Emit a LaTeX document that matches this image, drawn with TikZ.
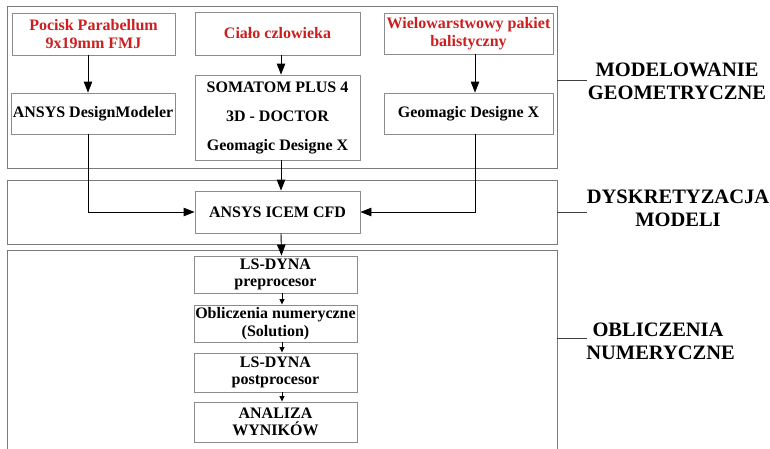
\documentclass[tikz,border=0pt]{standalone}
\usepackage{fontspec}
\setmainfont{Liberation Serif}
\usetikzlibrary{arrows.meta,calc}
\definecolor{boxgray}{HTML}{8C8C8C}
\definecolor{framegray}{HTML}{7A7A7A}
\definecolor{redtxt}{HTML}{CC1F1F}
\tikzset{
  stepbox/.style={draw=boxgray, line width=0.9pt, fill=white, align=center, inner sep=0pt,
    font=\fontsize{16}{18}\selectfont\bfseries},
  redbox/.style={stepbox, text=redtxt},
  smallbox/.style={stepbox, font=\fontsize{16}{17.5}\selectfont\bfseries},
  frame/.style={draw=framegray, line width=1pt},
  arr/.style={-{Triangle[length=11pt,width=8.5pt]}, line width=0.9pt, black},
  sarr/.style={-{Triangle[length=5.5pt,width=5pt]}, line width=0.9pt, black},
  tick/.style={draw=black!75, line width=1pt},
  grouplabel/.style={align=center, font=\fontsize{20.5}{23}\selectfont\bfseries, inner sep=0pt}
}
\begin{document}
\begin{tikzpicture}[x=1pt,y=-1pt]
\useasboundingbox (0,0) rectangle (770,448);
% group frames
\draw[frame] (7,6) rectangle (557,168);
\draw[frame] (7,180) rectangle (557,244);
\draw[frame] (7,450) -- (7,250) -- (557,250) -- (557,450);
% group labels
\coordinate (t1) at (557,80);
\coordinate (t2) at (557,212);
\coordinate (t3) at (557,338);
\node[grouplabel] (l1) at (677,81) {MODELOWANIE\\GEOMETRYCZNE};
\node[grouplabel] (l2) at (678,208) {DYSKRETYZACJA\\MODELI};
\node[grouplabel] (l3) at (658,341) {OBLICZENIA\\\ NUMERYCZNE};
\draw[tick] (t1) -- ++(30,0);
\draw[tick] (t2) -- ++(30,0);
\draw[tick] (t3) -- ++(30,0);
% nodes
\node[redbox, minimum width=163pt, minimum height=42pt] (pocisk) at (93.5,34) {Pocisk Parabellum\\9x19mm FMJ};
\node[redbox, minimum width=165pt, minimum height=43pt] (cialo) at (277.5,33.5) {Ciało czlowieka};
\node[redbox, minimum width=169pt, minimum height=41pt] (pakiet) at (468.5,33.5) {Wielowarstwowy pakiet\\balistyczny};
\node[stepbox, minimum width=164pt, minimum height=41pt] (dm) at (93,113.5) {ANSYS DesignModeler};
\node[stepbox, minimum width=165pt, minimum height=85pt, font=\fontsize{16}{29}\selectfont\bfseries] (soma) at (277.5,117.5) {SOMATOM PLUS 4\\3D - DOCTOR\\Geomagic Designe X};
\node[stepbox, minimum width=169pt, minimum height=41pt] (geo) at (468.5,113.5) {Geomagic Designe X};
\node[stepbox, minimum width=165pt, minimum height=42pt] (icem) at (277.5,212) {ANSYS ICEM CFD};
\node[smallbox, minimum width=163pt, minimum height=37pt] (pre) at (275.5,274.5) {LS-DYNA\\preprocesor};
\node[smallbox, minimum width=163pt, minimum height=37pt] (obl) at (275.5,323.5) {Obliczenia numeryczne\\(Solution)};
\node[smallbox, minimum width=163pt, minimum height=39pt] (post) at (275.5,372.5) {LS-DYNA\\postprocesor};
\node[smallbox, minimum width=163pt, minimum height=40pt] (anal) at (275.5,422) {ANALIZA\\WYNIKÓW};
% connectors
\draw[arr] ([xshift=-5.5pt]pocisk.south) -- ([xshift=-5pt]dm.north);
\draw[arr] ([xshift=3.5pt]cialo.south) -- ([xshift=3.5pt]soma.north);
\draw[arr] ([xshift=6.5pt]pakiet.south) -- ([xshift=6.5pt]geo.north);
\draw[arr] ([xshift=3.5pt]soma.south) -- ([xshift=3.5pt]icem.north);
\draw[arr] ([xshift=-5pt]dm.south) |- (icem.west);
\draw[arr] ([xshift=6.5pt]geo.south) |- (icem.east);
\draw[arr] ([xshift=3.5pt]icem.south) -- ([xshift=6pt]pre.north);
\draw[sarr] ([xshift=6.5pt]pre.south) -- ([xshift=6.5pt]obl.north);
\draw[sarr] ([xshift=6.5pt]obl.south) -- ([xshift=6.5pt]post.north);
\draw[sarr] ([xshift=6.5pt]post.south) -- ([xshift=6.5pt]anal.north);
\end{tikzpicture}
\end{document}
